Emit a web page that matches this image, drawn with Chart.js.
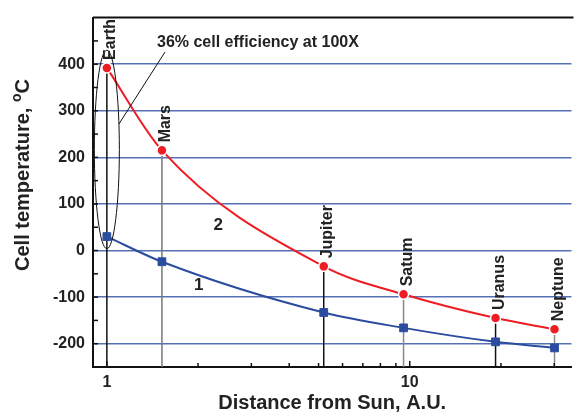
<!DOCTYPE html>
<html><head><meta charset="utf-8">
<script src="https://cdn.jsdelivr.net/npm/chart.js@4/dist/chart.umd.min.js"></script>
<style>html,body{margin:0;padding:0;background:#fff;overflow:hidden}</style>
</head><body>
<canvas id="c" width="578" height="417"></canvas>
<script>
// ---- data ----
const planets = ['Earth', 'Mars', 'Jupiter', 'Satum', 'Uranus', 'Neptune'];
const distanceAU = [1, 1.52, 5.2, 9.54, 19.2, 30.06];
const tempCurve2 = [392, 215, -34, -94, -145, -169];
const tempCurve1 = [30, -24, -133, -166, -196, -209];
const yTickLabels = [-200, -100, 0, 100, 200, 300, 400];
const yMinorTicks = [-250, -150, -50, 50, 150, 250, 350, 450];
const xTickLabels = [1, 10];
const xMinorTicks = [2, 3, 4, 5, 6, 7, 8, 9, 20, 30];
const seriesNames = ['1', '2'];
const annotationText = '36% cell efficiency at 100X';
const xTitle = 'Distance from Sun, A.U.';
const yTitleMain = 'Cell temperature, ';
const yTitleSup = 'o';
const yTitleEnd = 'C';

// ---- styles / placement (not data) ----
const RED = '#ee1d23', BLUE = '#2b4c9f', GRID = '#5670b6';
const FONT = '"Liberation Sans", Arial, sans-serif';
const dropLineColors = ['#111', '#777', '#111', '#888', '#111', '#888'];
const seriesLabelPos = [{x: 2.01, y: -75}, {x: 2.33, y: 54}];
const ellipseSpec = {x: 1, yTop: 430, yBottom: 4, rx: 12.5};

const pts = (ys) => distanceAU.map((d, i) => ({x: d, y: ys[i]}));

const deco = {
  id: 'deco',
  beforeDatasetsDraw(chart) {
    const {ctx, chartArea: a, scales: {x, y}} = chart;
    ctx.save();
    distanceAU.forEach((d, i) => {
      const px = x.getPixelForValue(d), py = y.getPixelForValue(tempCurve2[i]);
      ctx.strokeStyle = dropLineColors[i];
      ctx.lineWidth = 1.5;
      ctx.beginPath(); ctx.moveTo(px, py); ctx.lineTo(px, a.bottom); ctx.stroke();
    });
    ctx.restore();
  },
  afterDraw(chart) {
    const {ctx, chartArea: a, scales: {x, y}} = chart;
    ctx.save();
    // top frame line
    ctx.strokeStyle = '#111'; ctx.lineWidth = 2;
    ctx.beginPath(); ctx.moveTo(a.left, a.top); ctx.lineTo(a.right + 2, a.top); ctx.stroke();
    // inward ticks
    ctx.lineWidth = 1.5;
    const yT = yTickLabels.concat(yMinorTicks);
    yT.forEach(v => {
      const py = y.getPixelForValue(v);
      ctx.beginPath(); ctx.moveTo(a.left, py); ctx.lineTo(a.left + 5, py); ctx.stroke();
    });
    xTickLabels.forEach(v => {
      const px = x.getPixelForValue(v);
      ctx.beginPath(); ctx.moveTo(px, a.bottom); ctx.lineTo(px, a.bottom - 6); ctx.stroke();
    });
    xMinorTicks.forEach(v => {
      const px = x.getPixelForValue(v);
      if (px > a.right) return;
      ctx.beginPath(); ctx.moveTo(px, a.bottom); ctx.lineTo(px, a.bottom - 4); ctx.stroke();
    });
    // axis titles
    ctx.fillStyle = '#222';
    ctx.font = 'bold 20px ' + FONT;
    ctx.textAlign = 'center'; ctx.textBaseline = 'middle';
    ctx.fillText(xTitle, (a.left + a.right) / 2, 403);
    ctx.save();
    ctx.translate(22, 175);
    ctx.rotate(-Math.PI / 2);
    ctx.textAlign = 'left'; ctx.textBaseline = 'alphabetic';
    const fMain = 'bold 20px ' + FONT, fSup = 'bold 14px ' + FONT;
    ctx.font = fMain; const w1 = ctx.measureText(yTitleMain).width, w3 = ctx.measureText(yTitleEnd).width;
    ctx.font = fSup; const w2 = ctx.measureText(yTitleSup).width;
    let sx = -(w1 + w2 + w3) / 2; const base = 7;
    ctx.font = fMain; ctx.fillText(yTitleMain, sx, base); sx += w1;
    ctx.font = fSup; ctx.fillText(yTitleSup, sx, base - 8); sx += w2;
    ctx.font = fMain; ctx.fillText(yTitleEnd, sx, base);
    ctx.restore();
    // ellipse around Earth points
    const ex = x.getPixelForValue(ellipseSpec.x);
    const et = y.getPixelForValue(ellipseSpec.yTop), eb = y.getPixelForValue(ellipseSpec.yBottom);
    ctx.strokeStyle = '#111'; ctx.lineWidth = 1;
    ctx.beginPath(); ctx.ellipse(ex, (et + eb) / 2, ellipseSpec.rx, (eb - et) / 2, 0, 0, Math.PI * 2); ctx.stroke();
    // leader line
    const ly = 124, cy = (et + eb) / 2, ry = (eb - et) / 2;
    const lx = ex + ellipseSpec.rx * Math.sqrt(1 - Math.pow((ly - cy) / ry, 2));
    ctx.beginPath(); ctx.moveTo(165, 52); ctx.lineTo(lx, ly); ctx.stroke();
    // annotation text
    ctx.fillStyle = '#222';
    ctx.font = 'bold 16px ' + FONT;
    ctx.textAlign = 'left'; ctx.textBaseline = 'alphabetic';
    ctx.fillText(annotationText, 157, 47);
    // planet labels
    planets.forEach((p, i) => {
      const px = x.getPixelForValue(distanceAU[i]), py = y.getPixelForValue(tempCurve2[i]);
      ctx.save();
      ctx.translate(px + 4, py - 8);
      ctx.rotate(-Math.PI / 2);
      ctx.textAlign = 'left'; ctx.textBaseline = 'middle';
      ctx.fillText(p, 0, 0);
      ctx.restore();
    });
    // series labels
    ctx.font = 'bold 17px ' + FONT;
    ctx.textAlign = 'center'; ctx.textBaseline = 'middle';
    seriesNames.forEach((s, i) => {
      ctx.fillText(s, x.getPixelForValue(seriesLabelPos[i].x), y.getPixelForValue(seriesLabelPos[i].y));
    });
    ctx.restore();
  }
};

new Chart(document.getElementById('c'), {
  type: 'line',
  data: {
    datasets: [
      {label: seriesNames[0], data: pts(tempCurve1), borderColor: BLUE, backgroundColor: BLUE,
       borderWidth: 2, pointStyle: 'rect', pointRadius: 5.5, pointBackgroundColor: BLUE,
       pointBorderColor: BLUE, pointBorderWidth: 1, cubicInterpolationMode: 'monotone', fill: false},
      {label: seriesNames[1], data: pts(tempCurve2), borderColor: RED, backgroundColor: RED,
       borderWidth: 2, pointStyle: 'circle', pointRadius: 5, pointBackgroundColor: RED,
       pointBorderColor: '#fff', pointBorderWidth: 1.5, cubicInterpolationMode: 'monotone', fill: false}
    ]
  },
  options: {
    responsive: false, animation: false, devicePixelRatio: 1,
    layout: {padding: {top: 12, right: 0, left: 0, bottom: 2}},
    plugins: {legend: {display: false}, tooltip: {enabled: false}, title: {display: false}},
    scales: {
      x: {
        type: 'logarithmic', min: 0.9, max: 34.2,
        afterFit: s => { s.height = 48; },
        grid: {display: true, drawOnChartArea: false, drawTicks: false},
        border: {display: true, color: '#111', width: 2},
        ticks: {
          autoSkip: false, maxRotation: 0, padding: 6, color: '#222',
          font: {family: FONT, size: 16, weight: 'bold'},
          callback: (v) => xTickLabels.includes(v) ? String(v) : ''
        }
      },
      y: {
        type: 'linear', min: -250, max: 500,
        afterFit: s => { s.width = 93; },
        grid: {drawTicks: false, lineWidth: 1.5,
               color: (c) => (c.tick && yTickLabels.includes(c.tick.value)) ? GRID : 'rgba(0,0,0,0)'},
        border: {display: true, color: '#111', width: 2},
        ticks: {
          stepSize: 50, padding: 8, color: '#222',
          font: {family: FONT, size: 16, weight: 'bold'},
          callback: (v) => yTickLabels.includes(v) ? String(v) : ''
        }
      }
    }
  },
  plugins: [deco]
});
</script>
</body></html>
